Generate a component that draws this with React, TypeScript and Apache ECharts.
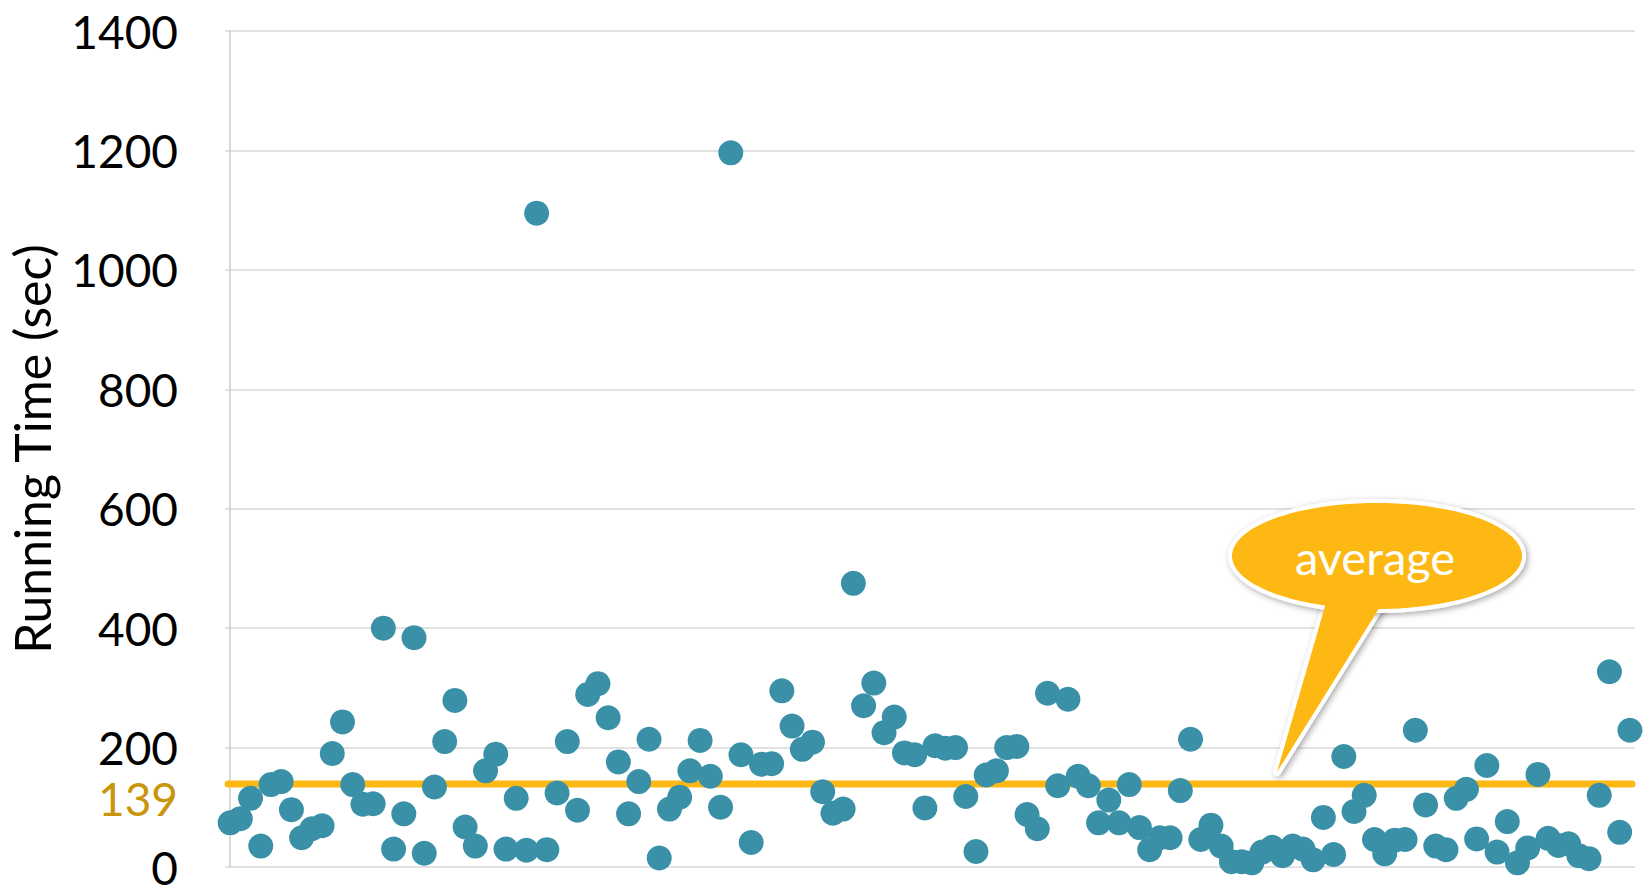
import React, { useEffect, useRef } from "react";
import * as echarts from "echarts";

const RUN_TIMES = [
  74, 81, 115, 35, 138, 143, 96, 49, 64, 69,
  190, 243, 138, 105, 106, 400, 30, 89, 384, 23,
  134, 210, 279, 67, 35, 161, 189, 30, 115, 28,
  1095, 29, 124, 210, 95, 289, 307, 250, 176, 89,
  143, 214, 15, 97, 117, 161, 212, 152, 100, 1196,
  188, 41, 172, 173, 295, 236, 197, 209, 126, 90,
  97, 475, 270, 308, 225, 251, 191, 188, 99, 203,
  199, 200, 118, 26, 154, 161, 200, 202, 88, 64,
  291, 136, 281, 152, 136, 74, 112, 74, 138, 66,
  29, 49, 49, 128, 214, 46, 70, 35, 9, 9,
  7, 25, 33, 19, 35, 30, 12, 83, 21, 185,
  93, 120, 46, 22, 45, 46, 229, 104, 35, 29,
  115, 130, 47, 170, 25, 76, 7, 32, 155, 48,
  36, 39, 19, 14, 120, 327, 58, 229,
];
const AVERAGE = 139;
const Y_MIN = 0;
const Y_MAX = 1400;
const Y_STEP = 200;
const Y_NAME = "Running Time (sec)";
const CALLOUT_TEXT = "average";

const TEAL = "#3a91a7";
const GOLD = "#fdb813";
const GOLD_TEXT = "#c9950c";
const FONT = "Lato, 'Open Sans', sans-serif";

export default function App() {
  const ref = useRef<HTMLDivElement>(null);
  useEffect(() => {
    document.body.style.margin = "0";
    const chart = echarts.init(ref.current!, null, { renderer: "svg" });
    const n = RUN_TIMES.length;
    chart.setOption({
      animation: false,
      backgroundColor: "#ffffff",
      grid: {
        left: 225,
        right: 8,
        top: 31,
        bottom: 18,
        containLabel: false,
        outerBoundsMode: "none",
      },
      xAxis: { type: "value", min: -0.5, max: n - 0.5, show: false },
      yAxis: {
        type: "value",
        min: Y_MIN,
        max: Y_MAX,
        interval: Y_STEP,
        name: Y_NAME,
        nameLocation: "middle",
        nameGap: 168,
        nameRotate: 90,
        nameTextStyle: { fontSize: 50, color: "#000", fontFamily: FONT },
        axisLine: { show: true, lineStyle: { color: "#cccccc", width: 1.5 } },
        axisTick: { show: false },
        axisLabel: {
          fontSize: 46,
          lineHeight: 30,
          padding: [0, 0, 4, 0],
          color: "#000",
          margin: 47,
          fontFamily: FONT,
          formatter: (v: number) => String(v),
        },
        splitLine: { lineStyle: { color: "#d9d9d9", width: 1.5 } },
      },
      series: [
        {
          type: "line",
          z: 1,
          symbol: "none",
          silent: true,
          lineStyle: { color: GOLD, width: 7, cap: "round" },
          data: [
            [-0.2, AVERAGE],
            [n - 0.8, AVERAGE],
          ],
        },
        {
          type: "scatter",
          z: 3,
          symbol: "circle",
          symbolSize: 25,
          itemStyle: { color: TEAL, opacity: 1 },
          data: RUN_TIMES.map((v, i) => [i, v]),
        },
      ],
    });

    const p = chart.convertToPixel({ gridIndex: 0 }, [-0.5, AVERAGE]) as number[];
    const bubbleShapes = (withStroke: boolean) => [
      {
        type: "polygon",
        shape: { points: [[1330, 589], [1388, 594], [1277, 772]] },
        style: withStroke
          ? { fill: GOLD, stroke: "#fff", lineWidth: 8, lineJoin: "round",
              shadowBlur: 6, shadowColor: "rgba(0,0,0,0.35)", shadowOffsetX: 2, shadowOffsetY: 2 }
          : { fill: GOLD },
      },
      {
        type: "ellipse",
        shape: { cx: 1377, cy: 556, rx: 145, ry: 53 },
        style: withStroke
          ? { fill: GOLD, stroke: "#fff", lineWidth: 8,
              shadowBlur: 6, shadowColor: "rgba(0,0,0,0.35)", shadowOffsetX: 2, shadowOffsetY: 2 }
          : { fill: GOLD },
      },
    ];
    chart.setOption({
      graphic: [
        {
          type: "text",
          z: 50,
          x: p[0] - 47,
          y: p[1] + 15,
          style: {
            text: String(AVERAGE),
            fill: GOLD_TEXT,
            fontSize: 46,
            fontFamily: FONT,
            align: "right",
            verticalAlign: "middle",
          },
        },
        {
          type: "group",
          z: 100,
          children: [
            ...bubbleShapes(true),
            ...bubbleShapes(false),
            {
              type: "text",
              x: 1375,
              y: 557,
              style: {
                text: CALLOUT_TEXT,
                fill: "#fff",
                fontSize: 47,
                fontFamily: FONT,
                align: "center",
                verticalAlign: "middle",
              },
            },
          ],
        },
      ],
    });
    return () => chart.dispose();
  }, []);
  return (
    <div
      ref={ref}
      style={{ position: "fixed", left: 0, top: 0, width: 1643, height: 885 }}
    />
  );
}
